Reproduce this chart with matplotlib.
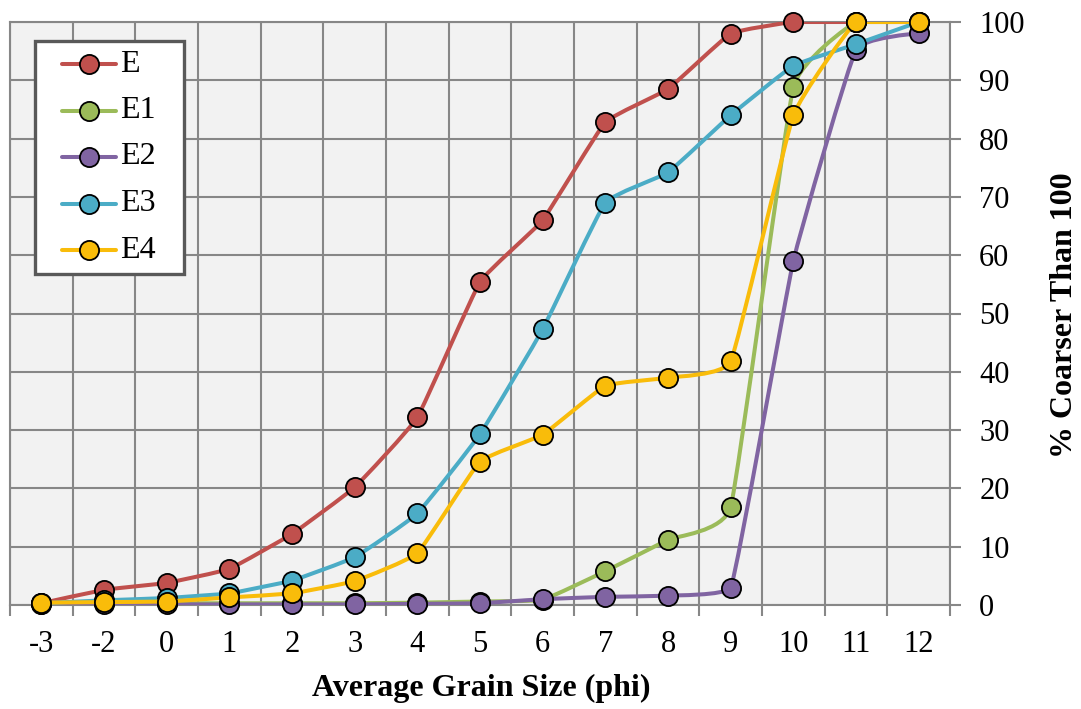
import matplotlib
matplotlib.use("Agg")
import matplotlib.pyplot as plt
from matplotlib.path import Path
from matplotlib.patches import PathPatch, Rectangle
from matplotlib.lines import Line2D
import numpy as np

plt.rcParams['font.family'] = ['Liberation Serif', 'DejaVu Serif']

# Grain size classes (phi) and cumulative % coarser for each sample
phi_labels = ["-3", "-2", "0", "1", "2", "3", "4", "5", "6", "7", "8", "9", "10", "11", "12"]
E  = [0.3, 2.6, 3.8, 6.2, 12.2, 20.2, 32.2, 55.4, 66.0, 82.8, 88.5, 98.0, 100.0, 100.0, 100.0]
E1 = [0.2, 0.3, 0.3, 0.3, 0.3, 0.3, 0.4, 0.6, 0.9, 5.8, 11.2, 16.8, 88.8, 100.0, 100.0]
E2 = [0.1, 0.1, 0.1, 0.1, 0.1, 0.1, 0.2, 0.3, 1.0, 1.4, 1.6, 2.9, 59.0, 95.2, 98.1]
E3 = [0.3, 0.8, 1.2, 2.0, 4.2, 8.2, 15.7, 29.3, 47.3, 69.0, 74.2, 84.0, 92.5, 96.2, 100.0]
E4 = [0.4, 0.5, 0.6, 1.3, 2.0, 4.1, 8.9, 24.6, 29.2, 37.6, 39.0, 41.8, 84.0, 100.0, 100.0]

series = [("E", E, "#C0504D"), ("E1", E1, "#9BBB59"), ("E2", E2, "#8064A2"),
          ("E3", E3, "#4BACC6"), ("E4", E4, "#F9BC0A")]

W, H = 1081, 709
fig = plt.figure(figsize=(W / 100, H / 100), dpi=100)
ax = fig.add_axes([10 / W, (H - 605) / H, 940 / W, 583 / H])
ax.set_facecolor("#F2F2F2")

n = len(phi_labels)
x = np.arange(n)

LW = 2.9
MS = 13.8
MEW = 1.3


def smooth_path(xs, ys, k=1 / 18.0):
    """Lightly smoothed cubic Bezier through the points, without overshoot."""
    pts = np.column_stack([xs, ys]).astype(float)
    verts = [pts[0]]
    codes = [Path.MOVETO]
    for i in range(len(pts) - 1):
        p0 = pts[i - 1] if i > 0 else pts[i]
        p1 = pts[i]
        p2 = pts[i + 1]
        p3 = pts[i + 2] if i + 2 < len(pts) else pts[i + 1]
        c1 = p1 + (p2 - p0) * k
        c2 = p2 - (p3 - p1) * k
        lo, hi = min(p1[1], p2[1]), max(p1[1], p2[1])
        c1[1] = np.clip(c1[1], lo, hi)
        c2[1] = np.clip(c2[1], lo, hi)
        verts += [c1, c2, p2]
        codes += [Path.CURVE4] * 3
    return Path(verts, codes)


z = 3
for name, vals, col in series:
    patch = PathPatch(smooth_path(x, vals), facecolor="none", edgecolor=col,
                      lw=LW, capstyle="round", joinstyle="round", zorder=z)
    ax.add_patch(patch)
    ax.plot(x, vals, linestyle="none", marker="o", ms=MS, mfc=col,
            mec="black", mew=MEW, zorder=z + 0.5, clip_on=False)
    z += 1

ax.set_xlim(-0.5, n - 0.5)
ax.set_ylim(0, 100)

# Grid on category boundaries and every 10 %
ax.set_xticks(np.arange(-0.5, n, 1.0))
ax.set_xticklabels([])
ax.set_xticks(x, minor=True)
ax.set_xticklabels(phi_labels, minor=True, fontsize=22)
ax.tick_params(axis="x", which="minor", length=0, pad=18)
ax.tick_params(axis="x", which="major", length=8, width=1.5, color="#878787")

ax.yaxis.tick_right()
ax.set_yticks(np.arange(0, 101, 10))
ax.tick_params(axis="y", which="major", length=8, width=1.5, color="#878787",
               labelsize=22, pad=13)

ax.grid(True, which="major", color="#878787", lw=1.5)
ax.set_axisbelow(True)
for sp in ax.spines.values():
    sp.set_color("#878787")
    sp.set_linewidth(1.5)

fig.text(481 / W, 1 - 688 / H, "Average Grain Size (phi)", ha="center",
         va="center", fontsize=23, fontweight="bold")
fig.text(1065 / W, 1 - 315 / H, "% Coarser Than 100", ha="center",
         va="center", rotation=90, fontsize=23, fontweight="bold")


# Legend box drawn in figure pixel coordinates
def fx(px):
    return px / W


def fy(py):
    return 1 - py / H


fig.add_artist(Rectangle((fx(35), fy(274)), fx(184) - fx(35), fy(41) - fy(274),
                         transform=fig.transFigure, facecolor="white",
                         edgecolor="#595959", lw=2.4, zorder=20))
entry_y = [64, 110.5, 157, 203.5, 250]
for (name, _, col), ey in zip(series, entry_y):
    fig.add_artist(Line2D([fx(62), fx(116)], [fy(ey), fy(ey)], color=col, lw=LW,
                          solid_capstyle="round", transform=fig.transFigure,
                          zorder=21))
    fig.add_artist(Line2D([fx(89)], [fy(ey)], marker="o", ms=MS, mfc=col,
                          mec="black", mew=MEW, linestyle="none",
                          transform=fig.transFigure, zorder=22))
    fig.text(fx(120), fy(ey), name, ha="left", va="center", fontsize=23,
             zorder=23)

fig.savefig("out.png", dpi=100)
